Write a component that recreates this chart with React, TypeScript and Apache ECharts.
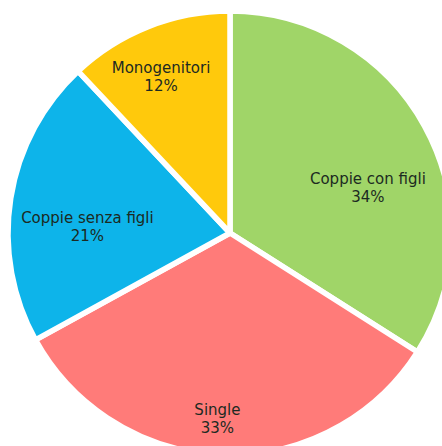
import React, { useEffect, useRef } from "react";
import * as echarts from "echarts";

const categories = ["Coppie con figli", "Single", "Coppie senza figli", "Monogenitori"];
const values = [34, 33, 21, 12];
const colors = ["#a0d568", "#ff7b79", "#0db4ea", "#ffc90c"];
// label nudges relative to ECharts' default inside position
const labelShift = [
  [38, 10],
  [-9, 72],
  [-30, 12],
  [-27, -50],
];

export default function App() {
  const ref = useRef<HTMLDivElement>(null);
  useEffect(() => {
    document.body.style.margin = "0";
    const chart = echarts.init(ref.current!, undefined, { renderer: "svg" });
    chart.setOption({
      animation: false,
      backgroundColor: "#ffffff",
      series: [
        {
          type: "pie",
          center: [230, 233],
          radius: [0, 222],
          startAngle: 90,
          clockwise: true,
          avoidLabelOverlap: false,
          itemStyle: { borderColor: "#ffffff", borderWidth: 5.5 },
          label: {
            show: true,
            position: "inside",
            formatter: (p: any) => `${p.name}\n${p.value}%`,
            color: "#1c2a22",
            fontFamily: "DejaVu Sans",
            fontSize: 15,
            lineHeight: 18,
            align: "center",
          },
          labelLine: { show: false },
          labelLayout: (p: any) => ({
            dx: labelShift[p.dataIndex][0],
            dy: labelShift[p.dataIndex][1],
          }),
          data: categories.map((c, i) => ({
            name: c,
            value: values[i],
            itemStyle: { color: colors[i] },
          })),
        },
      ],
    });
    return () => chart.dispose();
  }, []);
  return <div ref={ref} style={{ width: 442, height: 446 }} />;
}
